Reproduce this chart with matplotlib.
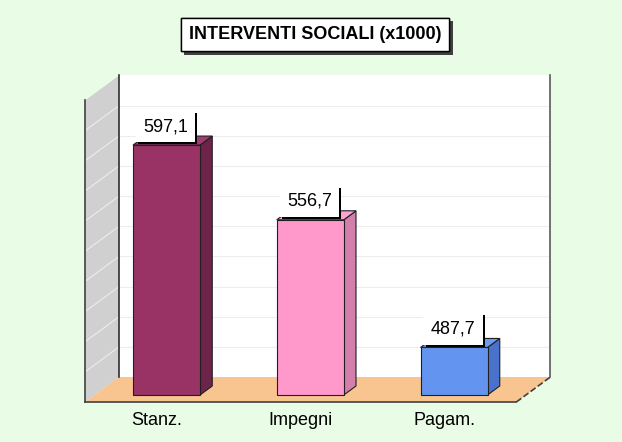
"""
INTERVENTI SOCIALI (x1000) - 3d style bar chart
"""
import numpy as np
import matplotlib
matplotlib.use("Agg")
import matplotlib.pyplot as plt
from matplotlib.patches import Polygon
from matplotlib import patheffects

categories = ["Stanz.", "Impegni", "Pagam."]
values = [597.1, 556.7, 487.7]
value_labels = ["597,1", "556,7", "487,7"]
title = "INTERVENTI SOCIALI (x1000)"

front_colors = ["#993366", "#ff99cc", "#6394f0"]
top_colors = ["#a03c6e", "#ffa3d2", "#6c9cf2"]
side_colors = ["#6e2349", "#d27fab", "#4a72cc"]

plt.rcParams["font.family"] = ["Liberation Sans", "DejaVu Sans"]

# value range of the walls and oblique depth layout
vmin, vmax = 462.0, 625.0
n_grid = 10
px_per_cat = 143.75
px_per_unit = 1.85
depth_dx = 34 / px_per_cat
depth_dy = 25 / px_per_unit
bar_w = 0.466
bar_z0, bar_z1 = 0.28, 0.64
x_left, x_right = -0.5, 2.5


def proj(x, v, z):
    return (x + z * depth_dx, v + z * depth_dy)


def face(ax, pts, fc, ec="none", lw=0.0, z=1):
    poly = Polygon([proj(*p) for p in pts], closed=True, facecolor=fc,
                   edgecolor=ec, linewidth=lw, zorder=z)
    ax.add_patch(poly)


fig = plt.figure(figsize=(6.22, 4.42), dpi=100, facecolor="#e9fce5")
ax = fig.add_axes([0, 0, 1, 1])
ax.set_xlim(-157 / px_per_cat, (622 - 157) / px_per_cat)
ax.set_ylim(vmin - 40 / px_per_unit, vmin + 402 / px_per_unit)
ax.axis("off")

# walls and floor
face(ax, [(x_left, vmin, 1), (x_right, vmin, 1), (x_right, vmax, 1), (x_left, vmax, 1)], "white")
face(ax, [(x_left, vmin, 0), (x_left, vmin, 1), (x_left, vmax, 1), (x_left, vmax, 0)], "#d0d0d0")
face(ax, [(x_left, vmin, 0), (x_right, vmin, 0), (x_right, vmin, 1), (x_left, vmin, 1)], "#f8c48f")

for g in np.linspace(vmin, vmax, n_grid + 1)[1:-1]:
    xs, ys = zip(proj(x_left, g, 1), proj(x_right, g, 1))
    ax.plot(xs, ys, color="#ededed", lw=0.8, zorder=2)
    xs, ys = zip(proj(x_left, g, 0), proj(x_left, g, 1))
    ax.plot(xs, ys, color="#ececec", lw=0.8, zorder=2)

edge_lines = [
    ((x_left, vmin, 0), (x_left, vmax, 0), "#404040", "-"),
    ((x_left, vmin, 1), (x_left, vmax, 1), "#303030", "-"),
    ((x_right, vmin, 1), (x_right, vmax, 1), "#5a5a5a", "-"),
    ((x_left, vmin, 0), (x_right, vmin, 0), "#404040", "-"),
    ((x_right, vmin, 0), (x_right, vmin, 1), "#404040", "--"),
]
for p0, p1, c, ls in edge_lines:
    xs, ys = zip(proj(*p0), proj(*p1))
    ax.plot(xs, ys, color=c, lw=1.2, ls=ls, zorder=3)

# bars
for i, v in enumerate(values):
    l, r = i - bar_w / 2, i + bar_w / 2
    ec = "#202020"
    face(ax, [(r, vmin, bar_z0), (r, vmin, bar_z1), (r, v, bar_z1), (r, v, bar_z0)],
         side_colors[i], ec, 0.8, 4)
    face(ax, [(l, v, bar_z0), (r, v, bar_z0), (r, v, bar_z1), (l, v, bar_z1)],
         top_colors[i], ec, 0.8, 4)
    face(ax, [(l, vmin, bar_z0), (r, vmin, bar_z0), (r, v, bar_z0), (l, v, bar_z0)],
         front_colors[i], ec, 0.8, 5)

    t = ax.annotate(value_labels[i], xy=proj(i, v, bar_z0), xytext=(-1, 14),
                    textcoords="offset pixels", ha="center", va="baseline",
                    fontsize=13, zorder=6,
                    bbox=dict(boxstyle="square,pad=0.4", fc="white", ec="none"))
    t.get_bbox_patch().set_path_effects([
        patheffects.withSimplePatchShadow(offset=(1.5, -1.5), shadow_rgbFace="black", alpha=1.0),
        patheffects.Normal()])

    ax.annotate(categories[i], xy=(i, vmin), xytext=(0, -23),
                textcoords="offset pixels", ha="center", va="baseline",
                fontsize=13, zorder=6)

tt = fig.text(315 / 622, 1 - 39 / 442, title, ha="center", va="baseline",
              fontsize=13, fontweight="bold",
              bbox=dict(boxstyle="square,pad=0.45", fc="white", ec="black", lw=1))
tt.get_bbox_patch().set_path_effects([
    patheffects.withSimplePatchShadow(offset=(2.5, -2.5), shadow_rgbFace="#404040", alpha=1.0),
    patheffects.Normal()])

fig.savefig("out.png", dpi=100, facecolor=fig.get_facecolor())
